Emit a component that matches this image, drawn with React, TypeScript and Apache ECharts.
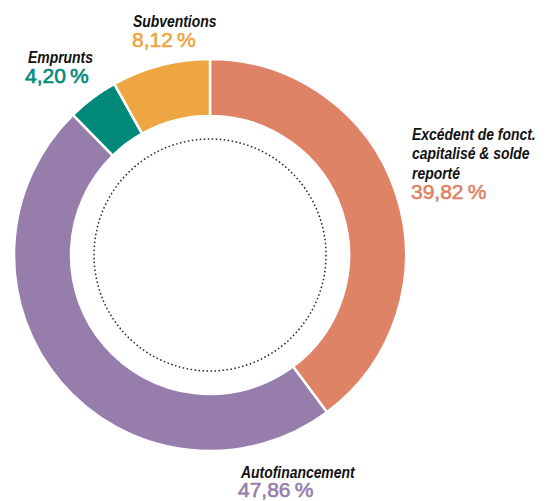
import React, { useEffect, useRef } from "react";
import * as echarts from "echarts";

const categories = [
  "Excédent de fonct.\ncapitalisé & solde\nreporté",
  "Autofinancement",
  "Emprunts",
  "Subventions",
];
const values = [39.82, 47.86, 4.2, 8.12];
const colors = ["#DF8367", "#967DAB", "#00897A", "#EDA641"];
// label anchor positions (top-left of name text, top-left of percent text)
const labelPos = [
  { nx: 412, ny: 124, px: 411, py: 181 },
  { nx: 241, ny: 462, px: 238, py: 479 },
  { nx: 28, ny: 47, px: 25, py: 65 },
  { nx: 133, ny: 11, px: 132, py: 29 },
];

const fmt = (v: number) => v.toFixed(2).replace(".", ",") + "\u2009%";

export default function App() {
  const ref = useRef<HTMLDivElement>(null);
  useEffect(() => {
    if (!ref.current) return;
    const chart = echarts.init(ref.current, undefined, { renderer: "svg" });
    const texts: any[] = [];
    categories.forEach((name, i) => {
      const p = labelPos[i];
      texts.push({
        type: "text",
        x: p.nx,
        y: p.ny,
        scaleX: 0.87,
        style: {
          text: name,
          fill: "#111",
          fontFamily: "'Liberation Sans', Arial, sans-serif",
          fontWeight: "bold",
          fontStyle: "italic",
          fontSize: 16,
          lineHeight: 19.5,
          align: "left",
          verticalAlign: "top",
        },
      });
      texts.push({
        type: "text",
        x: p.px,
        y: p.py,
        style: {
          text: fmt(values[i]),
          fill: colors[i],
          stroke: colors[i],
          lineWidth: 0.6,
          fontFamily: "'Liberation Sans', Arial, sans-serif",
          fontWeight: "normal",
          fontSize: 21,
          align: "left",
          verticalAlign: "top",
        },
      });
    });
    chart.setOption({
      animation: false,
      backgroundColor: "#ffffff",
      series: [
        {
          type: "pie",
          center: [210, 255],
          radius: [139, 196],
          startAngle: 90,
          clockwise: true,
          label: { show: false },
          labelLine: { show: false },
          emphasis: { disabled: true },
          itemStyle: { borderColor: "#ffffff", borderWidth: 2.5 },
          data: categories.map((c, i) => ({
            name: c,
            value: values[i],
            itemStyle: { color: colors[i] },
          })),
        },
      ],
      graphic: [
        {
          type: "circle",
          shape: { cx: 210, cy: 255, r: 116 },
          style: {
            fill: "none",
            stroke: "#222",
            lineWidth: 1.5,
            lineDash: [1.5, 2.5],
          },
          silent: true,
        },
        ...texts,
      ],
    });
    return () => chart.dispose();
  }, []);
  return (
    <div
      ref={ref}
      style={{ position: "fixed", left: 0, top: 0, width: 548, height: 501 }}
    />
  );
}
